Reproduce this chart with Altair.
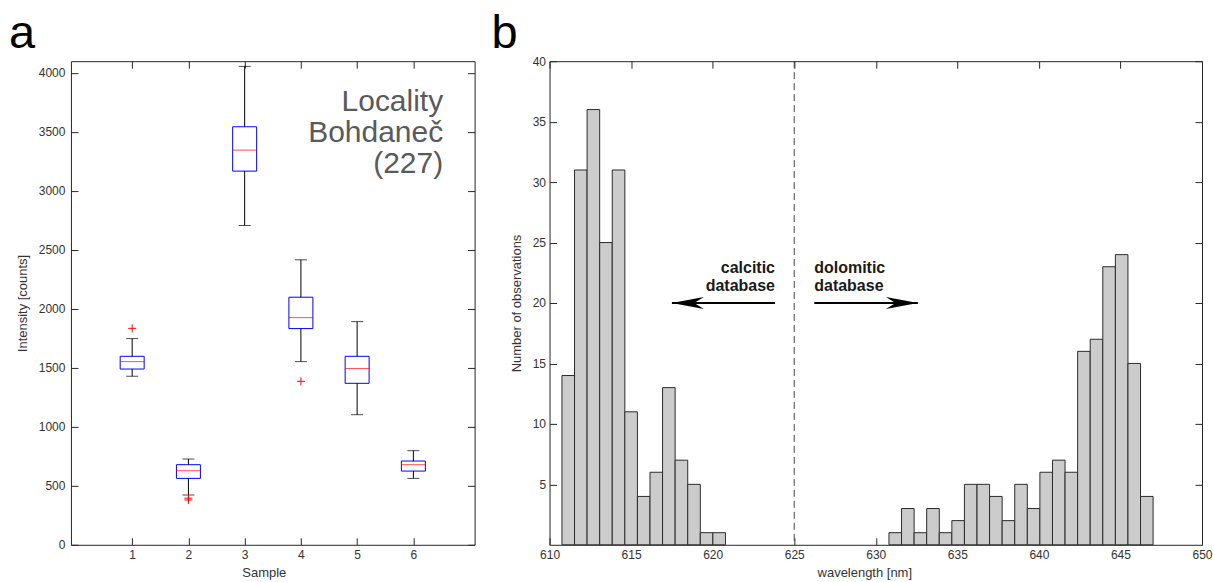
import altair as alt
import pandas as pd

FONT = "Liberation Sans"

# ---------------- panel a: box plots ----------------
samples = [1, 2, 3, 4, 5, 6]
q1_vals = [1490, 563, 3168, 1833, 1369, 625]
median_vals = [1553, 628, 3346, 1926, 1494, 679]
q3_vals = [1598, 679, 3544, 2099, 1598, 710]
whisker_lo = [1429, 422, 2707, 1553, 1103, 563]
whisker_hi = [1748, 727, 4056, 2416, 1892, 798]
outlier_sample = [1, 2, 2, 4]
outlier_value = [1835, 395, 380, 1386]
y_ticks_a = [0, 500, 1000, 1500, 2000, 2500, 3000, 3500, 4000]
locality_label = ["Locality\nBohdaneč\n(227)"]

# ---------------- panel b: histogram ----------------
counts_calcitic = [14, 31, 36, 25, 31, 11, 4, 6, 13, 7, 5, 1, 1]
counts_empty = [0] * 13
counts_dolomitic = [1, 3, 1, 3, 1, 2, 5, 5, 4, 2, 5, 3, 6, 7, 6, 16, 17, 23, 24, 15, 4]
bin_first_edge = 610.76
bin_width = 0.7711
x_ticks_b = [610, 615, 620, 625, 630, 635, 640, 645, 650]
y_ticks_b = [5, 10, 15, 20, 25, 30, 35, 40]
divider_nm = [625]
arrow_tail = [623.82, 626.23]
arrow_tip = [617.50, 632.58]
arrow_level = [20, 20]
arrow_text = ["calcitic\ndatabase", "dolomitic\ndatabase"]
text_level = [22.5, 22.5]

box_df = pd.DataFrame(dict(sample=samples, q1=q1_vals, med=median_vals,
                           q3=q3_vals, lo=whisker_lo, hi=whisker_hi))
out_df = pd.DataFrame(dict(sample=outlier_sample, value=outlier_value))

counts = counts_calcitic + counts_empty + counts_dolomitic
hist_rows = []
for i, c in enumerate(counts):
    if c > 0:
        hist_rows.append(dict(x0=bin_first_edge + i * bin_width,
                              x1=bin_first_edge + (i + 1) * bin_width,
                              n=c, base=0))
hist_df = pd.DataFrame(hist_rows)
arrow_df = pd.DataFrame(dict(tail=arrow_tail, tip=arrow_tip, y=arrow_level,
                             label=arrow_text, ty=text_level))

TICK = 7


def axis(orient, values, labels=True, title=None, **kw):
    base = dict(orient=orient, values=values, labels=labels, offset=-TICK,
                tickSize=TICK, domain=False, grid=False, tickColor="#262626",
                labelFlush=False, labelOverlap=False, format="d")
    base.update(kw)
    base["title"] = title
    return alt.Axis(**base)


W_A, W_B, H = 404, 653, 484

xs_a = alt.Scale(domain=[0, 7], nice=False, zero=False)
ys_a = alt.Scale(domain=[0, 4100], nice=False, zero=False)

boxes = alt.Chart(box_df).mark_bar(size=24, fillOpacity=0, stroke="#0000ff",
                                    strokeWidth=1).encode(
    x=alt.X("sample:Q", scale=xs_a,
            axis=axis("bottom", samples, title="Sample", labelPadding=5,
                      titlePadding=6, titleX=193)),
    y=alt.Y("q1:Q", scale=ys_a,
            axis=axis("left", y_ticks_a, title="Intensity [counts]",
                      labelPadding=6, titlePadding=9)),
    y2="q3:Q",
)
medians = alt.Chart(box_df).mark_tick(orient="horizontal", size=24, thickness=1,
                                      color="#ff0000").encode(
    x=alt.X("sample:Q", scale=xs_a, axis=axis("top", samples, labels=False)),
    y=alt.Y("med:Q", scale=ys_a, axis=axis("right", y_ticks_a, labels=False)),
)
whisk_up = alt.Chart(box_df).mark_rule(color="#000000", strokeWidth=1).encode(
    x=alt.X("sample:Q", scale=xs_a, axis=None),
    y=alt.Y("q3:Q", scale=ys_a, axis=None), y2="hi:Q")
whisk_dn = alt.Chart(box_df).mark_rule(color="#000000", strokeWidth=1).encode(
    x=alt.X("sample:Q", scale=xs_a, axis=None),
    y=alt.Y("lo:Q", scale=ys_a, axis=None), y2="q1:Q")
cap_hi = alt.Chart(box_df).mark_tick(orient="horizontal", size=12, thickness=1,
                                     color="#000000").encode(
    x=alt.X("sample:Q", scale=xs_a, axis=None),
    y=alt.Y("hi:Q", scale=ys_a, axis=None))
cap_lo = alt.Chart(box_df).mark_tick(orient="horizontal", size=12, thickness=1,
                                     color="#000000").encode(
    x=alt.X("sample:Q", scale=xs_a, axis=None),
    y=alt.Y("lo:Q", scale=ys_a, axis=None))
outliers = alt.Chart(out_df).mark_point(shape="M-1,0L1,0M0,-1L0,1", size=64,
                                        filled=False, stroke="#ff0000",
                                        strokeWidth=1, opacity=1).encode(
    x=alt.X("sample:Q", scale=xs_a, axis=None),
    y=alt.Y("value:Q", scale=ys_a, axis=None))
loc_text = alt.Chart(pd.DataFrame(dict(t=locality_label, x=[6.53], y=[3676]))).mark_text(
    align="right", baseline="alphabetic", font=FONT, fontSize=30,
    lineHeight=31, color="#5a5a5a", lineBreak="\n").encode(
    x=alt.X("x:Q", scale=xs_a, axis=None),
    y=alt.Y("y:Q", scale=ys_a, axis=None), text="t:N")
letter_a = alt.Chart(pd.DataFrame(dict(t=["a"]))).mark_text(
    align="left", baseline="alphabetic", font=FONT, fontSize=47,
    color="#000000").encode(x=alt.value(-62), y=alt.value(-13), text="t:N")

panel_a = alt.layer(boxes, medians, whisk_up, whisk_dn, cap_hi, cap_lo,
                    outliers, loc_text, letter_a).properties(width=W_A, height=H)

xs_b = alt.Scale(domain=[610, 650], nice=False, zero=False)
ys_b = alt.Scale(domain=[0, 40], nice=False)

bars = alt.Chart(hist_df).mark_bar(fill="#cccccc", stroke="#2b2b2b",
                                   strokeWidth=1).encode(
    x=alt.X("x0:Q", scale=xs_b,
            axis=axis("bottom", x_ticks_b, title="wavelength [nm]",
                      labelPadding=5, titlePadding=6, titleX=315)),
    x2="x1:Q",
    y=alt.Y("n:Q", scale=ys_b,
            axis=axis("left", y_ticks_b, title="Number of observations",
                      labelPadding=4, titlePadding=9)),
    y2="base:Q",
)
divider = alt.Chart(pd.DataFrame(dict(x=divider_nm))).mark_rule(
    color="#444444", strokeWidth=1, strokeDash=[7, 4]).encode(
    x=alt.X("x:Q", scale=xs_b, axis=None))
arrow_lines = alt.Chart(arrow_df).mark_rule(color="#000000", strokeWidth=2).encode(
    x=alt.X("tail:Q", scale=xs_b, axis=axis("top", x_ticks_b, labels=False)),
    x2="tip:Q",
    y=alt.Y("y:Q", scale=ys_b, axis=axis("right", y_ticks_b, labels=False)),
)
head_left = alt.Chart(arrow_df.iloc[[0]]).mark_point(
    shape="M0,0L2,-0.37L1.4,0L2,0.37Z", size=1024, filled=True,
    fill="#000000", strokeWidth=0, opacity=1).encode(
    x=alt.X("tip:Q", scale=xs_b, axis=None),
    y=alt.Y("y:Q", scale=ys_b, axis=None))
head_right = alt.Chart(arrow_df.iloc[[1]]).mark_point(
    shape="M0,0L-2,-0.37L-1.4,0L-2,0.37Z", size=1024, filled=True,
    fill="#000000", strokeWidth=0, opacity=1).encode(
    x=alt.X("tip:Q", scale=xs_b, axis=None),
    y=alt.Y("y:Q", scale=ys_b, axis=None))
text_left = alt.Chart(arrow_df.iloc[[0]]).mark_text(
    align="right", baseline="alphabetic", font=FONT, fontSize=16,
    fontWeight="bold", lineHeight=18.3, color="#1a1a1a", lineBreak="\n").encode(
    x=alt.X("tail:Q", scale=xs_b, axis=None),
    y=alt.Y("ty:Q", scale=ys_b, axis=None), text="label:N")
text_right = alt.Chart(arrow_df.iloc[[1]]).mark_text(
    align="left", baseline="alphabetic", font=FONT, fontSize=16,
    fontWeight="bold", lineHeight=18.3, color="#1a1a1a", lineBreak="\n").encode(
    x=alt.X("tail:Q", scale=xs_b, axis=None),
    y=alt.Y("ty:Q", scale=ys_b, axis=None), text="label:N")
letter_b = alt.Chart(pd.DataFrame(dict(t=["b"]))).mark_text(
    align="left", baseline="alphabetic", font=FONT, fontSize=47,
    color="#000000").encode(x=alt.value(-58), y=alt.value(-13), text="t:N")

panel_b = alt.layer(bars, divider, arrow_lines, head_left, head_right,
                    text_left, text_right, letter_b).properties(width=W_B, height=H)

chart = alt.hconcat(panel_a, panel_b, spacing=75, bounds="flush").properties(
    padding={"left": 8, "top": 9, "right": 0, "bottom": 0},
    background="#ffffff",
).configure_view(stroke="#262626", strokeWidth=1).configure_axis(
    labelFont=FONT, labelFontSize=12, labelColor="#333333",
    titleFont=FONT, titleFontSize=13, titleColor="#333333",
    titleFontWeight="normal",
)

chart.save("out.html", embed_options={"renderer": "svg", "actions": False})
